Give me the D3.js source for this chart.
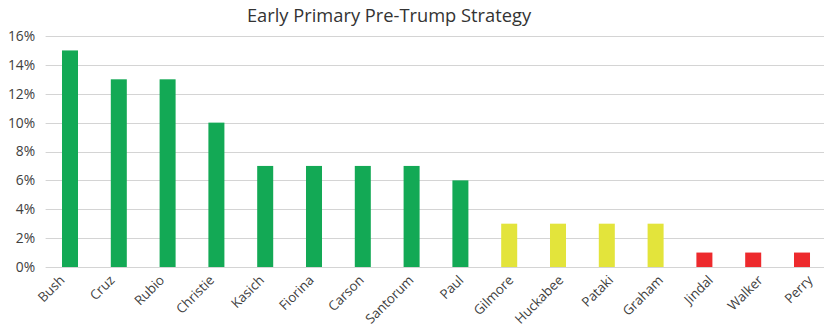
<!DOCTYPE html>
<html>
<head>
<meta charset="utf-8">
<script src="https://cdn.jsdelivr.net/npm/d3@7"></script>
<style>
  html, body { margin: 0; padding: 0; background: #fff; }
  svg { display: block; font-family: "Open Sans", "Liberation Sans", sans-serif; }
</style>
</head>
<body>
<svg id="chart" width="824" height="329"></svg>
<script>
// Candidates, shares and strategy tier
const candidates = ["Bush", "Cruz", "Rubio", "Christie", "Kasich", "Fiorina", "Carson", "Santorum",
  "Paul", "Gilmore", "Huckabee", "Pataki", "Graham", "Jindal", "Walker", "Perry"];
const shares = [0.15, 0.13, 0.13, 0.10, 0.07, 0.07, 0.07, 0.07, 0.06, 0.03, 0.03, 0.03, 0.03, 0.01, 0.01, 0.01];
const tiers = ["top", "top", "top", "top", "top", "top", "top", "top", "top",
  "mid", "mid", "mid", "mid", "low", "low", "low"];
const yTicks = [0, 0.02, 0.04, 0.06, 0.08, 0.10, 0.12, 0.14, 0.16];
const title = "Early Primary Pre-Trump Strategy";

const tierColor = { top: "#13a955", mid: "#e3e43b", low: "#ed2a2d" };

const W = 824, H = 329;
const plot = { left: 45.6, right: 826.4, top: 36, bottom: 267 };

const svg = d3.select("#chart");

const x = d3.scaleBand()
  .domain(candidates)
  .range([plot.left, plot.right])
  .paddingInner(0.672)
  .paddingOuter(0.336);

// Category label anchors (end of each rotated label)
const xLabel = d3.scalePoint()
  .domain(candidates)
  .range([65, 813]);

const y = d3.scaleLinear()
  .domain([0, 0.16])
  .range([plot.bottom, plot.top]);

// Gridlines
svg.append("g")
  .selectAll("line")
  .data(yTicks)
  .join("line")
  .attr("x1", plot.left)
  .attr("x2", W)
  .attr("y1", d => Math.round(y(d)) + 0.5)
  .attr("y2", d => Math.round(y(d)) + 0.5)
  .attr("stroke", "#d4d4d4")
  .attr("stroke-width", 1);

// Y axis labels
const yAxis = d3.axisLeft(y)
  .tickValues(yTicks)
  .tickFormat(d3.format(".0%"))
  .tickSize(0)
  .tickPadding(0);

svg.append("g")
  .attr("transform", `translate(${plot.left - 10.5},0)`)
  .call(yAxis)
  .call(g => g.select(".domain").remove())
  .call(g => g.selectAll("text")
    .attr("fill", "#404040")
    .attr("font-size", 13.8)
    .attr("font-family", "'Open Sans', sans-serif"));

// Bars
svg.append("g")
  .selectAll("rect")
  .data(candidates)
  .join("rect")
  .attr("x", d => x(d))
  .attr("width", x.bandwidth())
  .attr("y", (d, i) => y(shares[i]))
  .attr("height", (d, i) => y(0) - y(shares[i]))
  .attr("fill", (d, i) => tierColor[tiers[i]]);

// X axis labels, rotated 45 degrees
const xAxis = d3.axisBottom(xLabel).tickSize(0).tickPadding(0);
svg.append("g")
  .attr("transform", `translate(0,${plot.bottom})`)
  .call(xAxis)
  .call(g => g.select(".domain").remove())
  .call(g => g.selectAll("text")
    .attr("fill", "#404040")
    .attr("font-size", 13.3)
    .attr("font-family", "'Open Sans', sans-serif")
    .attr("text-anchor", "end")
    .attr("dy", 0)
    .attr("y", 0)
    .attr("transform", "translate(0,14) rotate(-45)"));

// Title
svg.append("text")
  .attr("x", 389)
  .attr("y", 22)
  .attr("text-anchor", "middle")
  .attr("fill", "#333333")
  .attr("font-size", 18.3)
  .text(title);
</script>
</body>
</html>
